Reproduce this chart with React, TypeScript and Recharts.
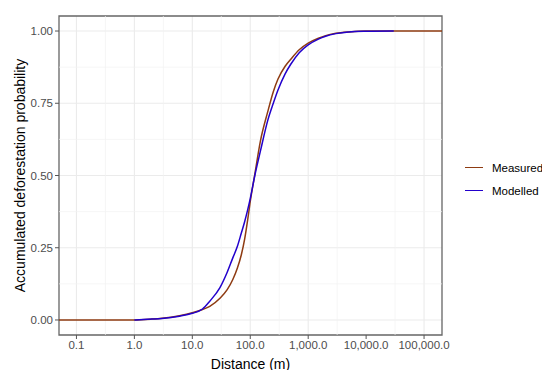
import React from 'react';
import {
  LineChart,
  Line,
  XAxis,
  YAxis,
  CartesianGrid,
  ReferenceLine,
  ReferenceArea,
} from 'recharts';

// distance in metres
const distance = [
  0.05, 0.1, 0.3, 1, 2, 3, 6, 10, 15, 20, 30, 40, 50, 60, 70, 80, 90, 100, 120, 150,
  200, 250, 300, 400, 500, 700, 1000, 1500, 2000, 3000, 5000, 10000, 30000, 100000, 204000,
];
const measured = [
  0, 0, 0, 0, 0.003, 0.006, 0.015, 0.025, 0.036, 0.047, 0.075, 0.105, 0.14, 0.18,
  0.225, 0.28, 0.345, 0.41, 0.505, 0.62, 0.72, 0.79, 0.833, 0.878, 0.902, 0.935, 0.958,
  0.975, 0.984, 0.992, 0.997, 1, 1, 1, 1,
];
const modelled = [
  null, null, null, 0, 0.003, 0.005, 0.013, 0.023, 0.038, 0.065, 0.112, 0.165, 0.215,
  0.255, 0.3, 0.34, 0.38, 0.42, 0.5, 0.585, 0.69, 0.75, 0.795, 0.852, 0.885, 0.925,
  0.952, 0.972, 0.982, 0.991, 0.997, 0.999, 1, null, null,
];

const xTicks = [0.1, 1, 10, 100, 1000, 10000, 100000];
const xMinor = [0.3162, 3.162, 31.62, 316.2, 3162, 31623];
const yTicks = [0, 0.25, 0.5, 0.75, 1];
const yMinor = [0.125, 0.375, 0.625, 0.875];

const X_DOMAIN: [number, number] = [0.05, 204000];
const Y_DOMAIN: [number, number] = [-0.052, 1.052];

const BROWN = '#8e3b12';
const BLUE = '#2200cc';
const FONT = 'Liberation Sans, Arial, sans-serif';

const data = distance.map((d, i) => ({
  distance: d,
  measured: measured[i],
  modelled: modelled[i],
}));

const fmtX = (v: number) =>
  v.toLocaleString('en-US', { minimumFractionDigits: 1, maximumFractionDigits: 1 });

const legendItems = [
  { name: 'Measured', color: BROWN },
  { name: 'Modelled', color: BLUE },
];

export default function App() {
  const tickStyle = { fontSize: 11.5, fill: '#4d4d4d', fontFamily: FONT };
  return (
    <div style={{ margin: -8, width: 550, height: 378, background: '#fff', position: 'relative' }}>
      <LineChart
        width={550}
        height={378}
        data={data}
        margin={{ top: 16, right: 108, bottom: 0, left: 0 }}
      >
        <CartesianGrid
          stroke="#ebebeb"
          strokeWidth={1.1}
          horizontalValues={yTicks}
          verticalValues={xTicks}
        />
        {xMinor.map((v) => (
          <ReferenceLine key={'x' + v} x={v} stroke="#f2f2f2" strokeWidth={0.7} />
        ))}
        {yMinor.map((v) => (
          <ReferenceLine key={'y' + v} y={v} stroke="#f2f2f2" strokeWidth={0.7} />
        ))}
        <XAxis
          dataKey="distance"
          type="number"
          scale="log"
          domain={X_DOMAIN}
          allowDataOverflow
          ticks={xTicks}
          tickFormatter={fmtX}
          axisLine={false}
          tickLine={{ stroke: '#555' }}
          tickSize={4}
          tickMargin={2}
          tick={tickStyle}
          height={43}
          label={{
            value: 'Distance (m)',
            position: 'insideBottom',
            offset: 9,
            style: { fontSize: 14, fill: '#000', fontFamily: FONT },
          }}
        />
        <YAxis
          type="number"
          domain={Y_DOMAIN}
          allowDataOverflow
          ticks={yTicks}
          tickFormatter={(v: number) => v.toFixed(2)}
          axisLine={false}
          tickLine={{ stroke: '#555' }}
          tickSize={4}
          tickMargin={2}
          tick={tickStyle}
          width={59}
          label={{
            value: 'Accumulated deforestation probability',
            angle: -90,
            position: 'insideLeft',
            offset: 20,
            style: { textAnchor: 'middle', fontSize: 14, fill: '#000', fontFamily: FONT },
          }}
        />
        <Line
          type="monotone"
          dataKey="measured"
          name="Measured"
          stroke={BROWN}
          strokeWidth={1.5}
          dot={false}
          isAnimationActive={false}
        />
        <Line
          type="monotone"
          dataKey="modelled"
          name="Modelled"
          stroke={BLUE}
          strokeWidth={1.5}
          dot={false}
          isAnimationActive={false}
        />
        <ReferenceArea
          x1={X_DOMAIN[0]}
          x2={X_DOMAIN[1]}
          y1={Y_DOMAIN[0]}
          y2={Y_DOMAIN[1]}
          fill="none"
          stroke="#666"
          strokeWidth={1.3}
          ifOverflow="visible"
        />
      </LineChart>
      <div style={{ position: 'absolute', left: 465, top: 156, fontFamily: FONT, fontSize: 11.5 }}>
        {legendItems.map((it) => (
          <div key={it.name} style={{ display: 'flex', alignItems: 'center', height: 23 }}>
            <div style={{ width: 18, height: 1.5, background: it.color, marginRight: 9 }} />
            <span style={{ color: '#000' }}>{it.name}</span>
          </div>
        ))}
      </div>
    </div>
  );
}
